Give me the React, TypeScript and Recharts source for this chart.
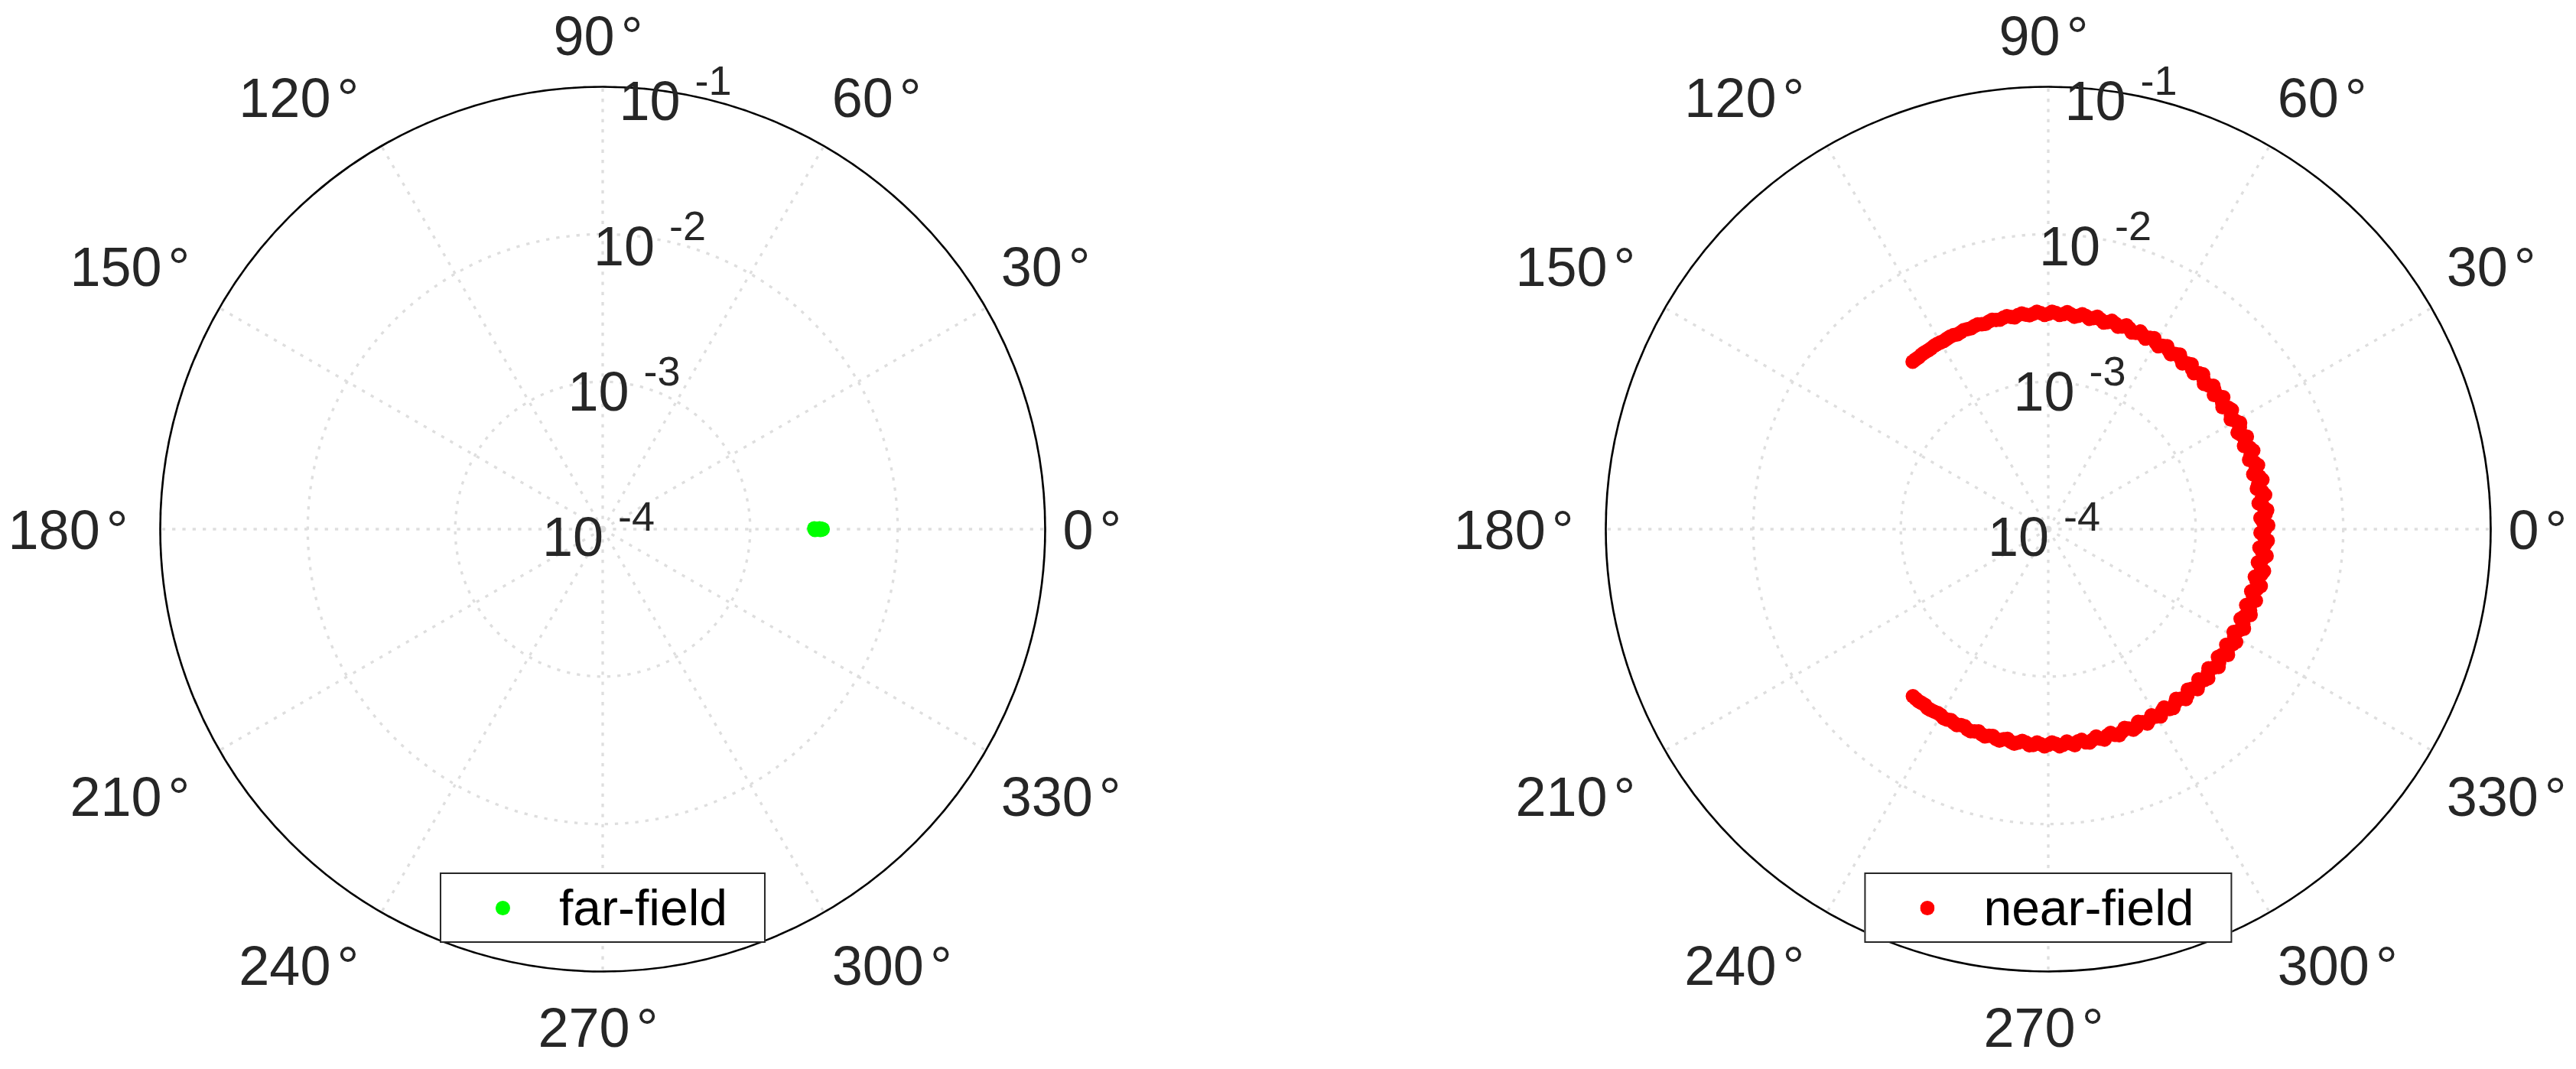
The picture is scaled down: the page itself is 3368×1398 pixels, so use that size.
import React from 'react';
import { RadarChart, Radar, PolarGrid, PolarAngleAxis, PolarRadiusAxis, Legend } from 'recharts';

// ---- axis definitions ----
const angleTicks = [0, 30, 60, 90, 120, 150, 180, 210, 240, 270, 300, 330];
const radiusTickExponents = [-4, -3, -2, -1]; // labels 10^-4 ... 10^-1
const radiusDomain = [-4, -1];

// ---- far-field series (angle in degrees, magnitude) ----
const farFieldAngles = [0.2, 359.8, 0.0, 0.1, 359.9, 0.0, 0.2, 359.8, 0.1, 359.9, 0.0];
const farFieldValues = [
  2.72e-3, 2.75e-3, 2.79e-3, 2.83e-3, 2.87e-3, 2.91e-3, 2.95e-3, 2.99e-3, 3.03e-3, 3.07e-3, 3.1e-3,
];

// ---- near-field series, odd-degree samples (angle in degrees, magnitude) ----
const nearFieldAnglesOdd = [
  231, 233, 235, 237, 239, 241, 243, 245, 247, 249,
  251, 253, 255, 257, 259, 261, 263, 265, 267, 269,
  271, 273, 275, 277, 279, 281, 283, 285, 287, 289,
  291, 293, 295, 297, 299, 301, 303, 305, 307, 309,
  311, 313, 315, 317, 319, 321, 323, 325, 327, 329,
  331, 333, 335, 337, 339, 341, 343, 345, 347, 349,
  351, 353, 355, 357, 359,
  1, 3, 5, 7, 9, 11, 13, 15, 17, 19,
  21, 23, 25, 27, 29, 31, 33, 35, 37, 39,
  41, 43, 45, 47, 49, 51, 53, 55, 57, 59,
  61, 63, 65, 67, 69, 71, 73, 75, 77, 79,
  81, 83, 85, 87, 89, 91, 93, 95, 97, 99,
  101, 103, 105, 107, 109, 111, 113, 115, 117, 119,
  121, 123, 125, 127, 129,
];
const nearFieldValuesOdd = [
  2.87e-3, 2.89e-3, 2.86e-3, 2.9e-3, 2.85e-3, 2.92e-3, 2.84e-3, 2.93e-3, 2.83e-3, 2.94e-3,
  2.82e-3, 2.95e-3, 2.83e-3, 2.96e-3, 2.81e-3, 2.97e-3, 2.8e-3, 2.96e-3, 2.81e-3, 2.97e-3,
  2.8e-3, 2.98e-3, 2.79e-3, 2.99e-3, 2.8e-3, 2.98e-3, 2.78e-3, 3.0e-3, 2.79e-3, 3.01e-3,
  2.78e-3, 3.0e-3, 2.77e-3, 3.02e-3, 2.78e-3, 3.03e-3, 2.77e-3, 3.02e-3, 2.76e-3, 3.04e-3,
  2.77e-3, 3.05e-3, 2.76e-3, 3.04e-3, 2.75e-3, 3.06e-3, 2.76e-3, 3.07e-3, 2.75e-3, 3.06e-3,
  2.74e-3, 3.08e-3, 2.75e-3, 3.09e-3, 2.74e-3, 3.08e-3, 2.75e-3, 3.1e-3, 2.74e-3, 3.09e-3,
  2.75e-3, 3.1e-3, 2.74e-3, 3.09e-3, 2.75e-3,
  3.1e-3, 2.76e-3, 3.09e-3, 2.74e-3, 3.08e-3, 2.76e-3, 3.09e-3, 2.75e-3, 3.07e-3, 2.76e-3,
  3.08e-3, 2.77e-3, 3.06e-3, 2.76e-3, 3.07e-3, 2.78e-3, 3.05e-3, 2.77e-3, 3.06e-3, 2.79e-3,
  3.04e-3, 2.78e-3, 3.05e-3, 2.8e-3, 3.03e-3, 2.79e-3, 3.04e-3, 2.81e-3, 3.02e-3, 2.8e-3,
  3.03e-3, 2.82e-3, 3.01e-3, 2.81e-3, 3.02e-3, 2.83e-3, 3.0e-3, 2.82e-3, 3.01e-3, 2.84e-3,
  2.99e-3, 2.83e-3, 3.0e-3, 2.85e-3, 2.98e-3, 2.84e-3, 2.99e-3, 2.86e-3, 2.97e-3, 2.85e-3,
  2.96e-3, 2.87e-3, 2.95e-3, 2.86e-3, 2.94e-3, 2.88e-3, 2.93e-3, 2.87e-3, 2.92e-3, 2.88e-3,
  2.91e-3, 2.89e-3, 2.9e-3, 2.88e-3, 2.89e-3,
];

// ---- near-field series, even-degree samples ----
const nearFieldAnglesEven = [
  232, 234, 236, 238, 240, 242, 244, 246, 248, 250,
  252, 254, 256, 258, 260, 262, 264, 266, 268, 270,
  272, 274, 276, 278, 280, 282, 284, 286, 288, 290,
  292, 294, 296, 298, 300, 302, 304, 306, 308, 310,
  312, 314, 316, 318, 320, 322, 324, 326, 328, 330,
  332, 334, 336, 338, 340, 342, 344, 346, 348, 350,
  352, 354, 356, 358,
  0, 2, 4, 6, 8, 10, 12, 14, 16, 18,
  20, 22, 24, 26, 28, 30, 32, 34, 36, 38,
  40, 42, 44, 46, 48, 50, 52, 54, 56, 58,
  60, 62, 64, 66, 68, 70, 72, 74, 76, 78,
  80, 82, 84, 86, 88, 90, 92, 94, 96, 98,
  100, 102, 104, 106, 108, 110, 112, 114, 116, 118,
  120, 122, 124, 126, 128,
];
const nearFieldValuesEven = [
  2.88e-3, 2.87e-3, 2.91e-3, 2.88e-3, 2.86e-3, 2.9e-3, 2.89e-3, 2.85e-3, 2.91e-3, 2.88e-3,
  2.9e-3, 2.87e-3, 2.92e-3, 2.86e-3, 2.91e-3, 2.89e-3, 2.85e-3, 2.93e-3, 2.88e-3, 2.9e-3,
  2.86e-3, 2.92e-3, 2.89e-3, 2.84e-3, 2.94e-3, 2.88e-3, 2.91e-3, 2.85e-3, 2.93e-3, 2.9e-3,
  2.87e-3, 2.95e-3, 2.86e-3, 2.91e-3, 2.93e-3, 2.85e-3, 2.96e-3, 2.89e-3, 2.88e-3, 2.94e-3,
  2.86e-3, 2.92e-3, 2.97e-3, 2.87e-3, 2.9e-3, 2.95e-3, 2.84e-3, 2.93e-3, 2.98e-3, 2.86e-3,
  2.91e-3, 2.96e-3, 2.85e-3, 2.99e-3, 2.92e-3, 2.88e-3, 2.97e-3, 2.86e-3, 3.0e-3, 2.9e-3,
  2.93e-3, 2.87e-3, 2.98e-3, 2.91e-3,
  2.95e-3, 2.86e-3, 3.0e-3, 2.92e-3, 2.89e-3, 2.97e-3, 2.85e-3, 2.99e-3, 2.91e-3, 2.94e-3,
  2.88e-3, 2.98e-3, 2.9e-3, 2.86e-3, 2.96e-3, 2.93e-3, 2.89e-3, 2.97e-3, 2.87e-3, 2.92e-3,
  2.95e-3, 2.88e-3, 2.91e-3, 2.96e-3, 2.87e-3, 2.93e-3, 2.9e-3, 2.94e-3, 2.89e-3, 2.92e-3,
  2.88e-3, 2.95e-3, 2.91e-3, 2.87e-3, 2.94e-3, 2.9e-3, 2.93e-3, 2.89e-3, 2.92e-3, 2.91e-3,
  2.94e-3, 2.89e-3, 2.92e-3, 2.9e-3, 2.93e-3, 2.88e-3, 2.92e-3, 2.91e-3, 2.9e-3, 2.93e-3,
  2.89e-3, 2.92e-3, 2.9e-3, 2.91e-3, 2.89e-3, 2.92e-3, 2.9e-3, 2.89e-3, 2.91e-3, 2.9e-3,
  2.9e-3, 2.91e-3, 2.89e-3, 2.9e-3, 2.89e-3,
];

const seriesNames = ['far-field', 'near-field'];
const seriesColors = ['#00ff00', '#ff0000'];

// ---- style constants ----
const FONT = '"Liberation Sans", Arial, Helvetica, sans-serif';
const TICK_COLOR = '#262626';
const GRID_COLOR = '#dedede';
const PANEL_W = 1684;
const PANEL_H = 1398;
const CY = 692;
const OUTER_R = 578.5;

const toTable = (angles: number[], values: number[]) =>
  angles.map((a, i) => ({ theta: a, lr: Math.log10(values[i]) }));

const farTable = toTable(farFieldAngles, farFieldValues);
const nearTable = [
  ...toTable(nearFieldAnglesOdd, nearFieldValuesOdd),
  ...toTable(nearFieldAnglesEven, nearFieldValuesEven),
];

const AngleTick = (props: any) => {
  const { x, y, payload } = props;
  const v = Number(payload.value);
  const rad = (v * Math.PI) / 180;
  const c = Math.cos(rad);
  const s = Math.sin(rad);
  let anchor: 'start' | 'middle' | 'end' = 'middle';
  let dx = -6;
  if (c > 0.01) {
    anchor = 'start';
    dx = -2;
  } else if (c < -0.01) {
    anchor = 'end';
    dx = -17;
  }
  let dy = 25.5;
  if (s > 0.01) dy = -16.5;
  else if (s < -0.01) dy = 73.5;
  return (
    <text x={x + dx} y={y + dy} textAnchor={anchor} fontSize={72} fontFamily={FONT} fill={TICK_COLOR}>
      {String(v)}
      <tspan dx={8}>°</tspan>
    </text>
  );
};

const RadiusTick = (props: any) => {
  const { x, y, payload } = props;
  return (
    <text x={x - 79} y={y + 35} fontSize={72} fontFamily={FONT} fill={TICK_COLOR}>
      10
      <tspan dx={19} dy={-33} fontSize={54}>
        {String(payload.value)}
      </tspan>
    </text>
  );
};

const makeLegend = (color: string) => (props: any) => {
  const entry = props.payload && props.payload[0];
  return (
    <div
      style={{
        display: 'flex',
        alignItems: 'center',
        boxSizing: 'border-box',
        height: 92.3,
        border: '2.7px solid #262626',
        background: '#ffffff',
        paddingLeft: 71,
        paddingRight: 48,
        fontFamily: FONT,
        fontSize: 66,
        color: '#000000',
        whiteSpace: 'nowrap',
      }}
    >
      <svg width={19} height={19} style={{ display: 'block', flex: 'none' }}>
        <circle cx={9.5} cy={9.5} r={9.5} fill={color} />
      </svg>
      <span style={{ marginLeft: 64, lineHeight: 1, display: 'block' }}>{entry ? entry.value : ''}</span>
    </div>
  );
};

function PolarPanel({ left, cx, data, color, name }: { left: number; cx: number; data: any[]; color: string; name: string }) {
  return (
    <div style={{ position: 'absolute', left, top: 0, width: PANEL_W, height: PANEL_H }}>
      <RadarChart
        width={PANEL_W}
        height={PANEL_H}
        data={data}
        cx={cx}
        cy={CY}
        innerRadius={0}
        outerRadius={OUTER_R}
        startAngle={0}
        endAngle={360}
        margin={{ top: 0, right: 0, bottom: 0, left: 0 }}
      >
        <PolarGrid gridType="circle" stroke={GRID_COLOR} strokeWidth={3.3} strokeDasharray="4.3 9" />
        <Radar
          name={name}
          dataKey="lr"
          fill="none"
          stroke="none"
          legendType="circle"
          dot={{ r: 9.5, fill: color, stroke: 'none', fillOpacity: 1 }}
          isAnimationActive={false}
        />
        <PolarAngleAxis
          dataKey="theta"
          type="number"
          domain={[0, 360]}
          ticks={angleTicks}
          tickCount={12}
          tickSize={25}
          tickLine={false}
          axisLineType="circle"
          axisLine={{ stroke: '#000000', strokeWidth: 2.6 }}
          tick={AngleTick}
        />
        <PolarRadiusAxis
          type="number"
          domain={radiusDomain}
          ticks={radiusTickExponents}
          tickCount={4}
          angle={80}
          axisLine={false}
          tick={RadiusTick}
        />
        <Legend
          content={makeLegend(color)}
          wrapperStyle={{ left: cx, top: 1141, bottom: 'auto', width: 'auto', height: 'auto', transform: 'translateX(-50%)' }}
        />
      </RadarChart>
    </div>
  );
}

export default function App() {
  return (
    <div style={{ position: 'absolute', left: 0, top: 0, width: 3368, height: 1398, background: '#ffffff' }}>
      <PolarPanel left={0} cx={788} data={farTable} color={seriesColors[0]} name={seriesNames[0]} />
      <PolarPanel left={PANEL_W} cx={2678 - PANEL_W} data={nearTable} color={seriesColors[1]} name={seriesNames[1]} />
    </div>
  );
}
